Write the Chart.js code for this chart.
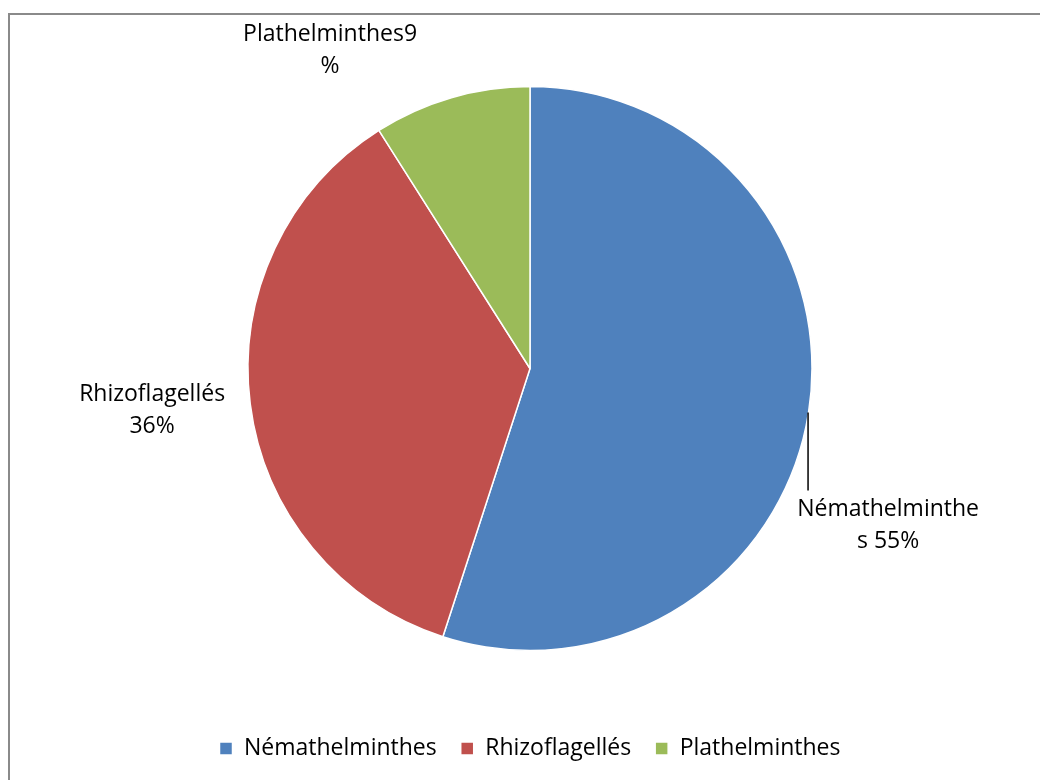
<!DOCTYPE html>
<html>
<head>
<meta charset="utf-8">
<script src="https://cdn.jsdelivr.net/npm/chart.js@4"></script>
<style>
  html, body { margin: 0; padding: 0; background: #fff; overflow: hidden; }
  #frame { position: absolute; left: 8px; top: 13px; width: 1100px; height: 900px; border: 2px solid #8a8a8a; }
  #wrap { position: absolute; left: 0; top: 0; width: 1040px; height: 780px; }
</style>
</head>
<body>
<div id="frame"></div>
<div id="wrap"><canvas id="myChart" width="1040" height="780"></canvas></div>
<script>
const labels = ['Némathelminthes', 'Rhizoflagellés', 'Plathelminthes'];
const values = [55, 36, 9];
const valueLabels = [
   ['Némathelminthe', 's 55%'],
   ['Rhizoflagellés', '36%'],
   ['Plathelminthes9', '%'],
];
const colors = ['#4F81BD', '#C0504D', '#9BBB59'];

const fontFamily = '"Open Sans", Lato, sans-serif';

// where each label block sits, in radii from the pie centre (hand placed like the original)
const labelSpots = [
   { dx: 1.27, dy: 0.50, leader: true },
   { dx: -1.34, dy: 0.092 },
   { dx: -0.709, dy: -1.184 },
];

const pieLabels = {
   id: 'pieLabels',
   afterDatasetsDraw(chart) {
      const ctx = chart.ctx;
      const arc = chart.getDatasetMeta(0).data[0];
      const cx = arc.x, cy = arc.y, r = arc.outerRadius;
      ctx.save();
      ctx.font = '23px ' + fontFamily;
      ctx.fillStyle = '#000';
      ctx.textAlign = 'center';
      ctx.textBaseline = 'middle';
      const lineH = 32;
      valueLabels.forEach((lines, i) => {
         const s = labelSpots[i];
         const x = cx + s.dx * r;
         const y = cy + s.dy * r;
         lines.forEach((t, k) => ctx.fillText(t, x, y + k * lineH));
         if (s.leader) {
            const lx = cx + 0.986 * r;
            const ly = cy + Math.sqrt(r * r - (lx - cx) * (lx - cx));
            ctx.strokeStyle = '#000';
            ctx.lineWidth = 1.5;
            ctx.beginPath();
            ctx.moveTo(lx, ly - 3);
            ctx.lineTo(lx, y - 19);
            ctx.stroke();
         }
      });
      ctx.restore();
   },
};

const data = {
   labels: labels,
   datasets: [
      {
         data: values,
         backgroundColor: colors,
         borderColor: '#fff',
         borderWidth: 1.5,
         radius: 282,
      },
   ],
};

const config = {
   type: 'pie',
   data: data,
   options: {
      responsive: false,
      animation: false,
      layout: {
         padding: { left: 20, right: 0, top: 24, bottom: 10 },
      },
      plugins: {
         legend: {
            position: 'bottom',
            labels: {
               boxWidth: 13,
               boxHeight: 13,
               padding: 24,
               color: '#000',
               font: { family: fontFamily, size: 23 },
            },
         },
         tooltip: { enabled: false },
      },
   },
   plugins: [pieLabels],
};
const myChart = new Chart(document.getElementById('myChart'), config);
</script>
</body>
</html>
